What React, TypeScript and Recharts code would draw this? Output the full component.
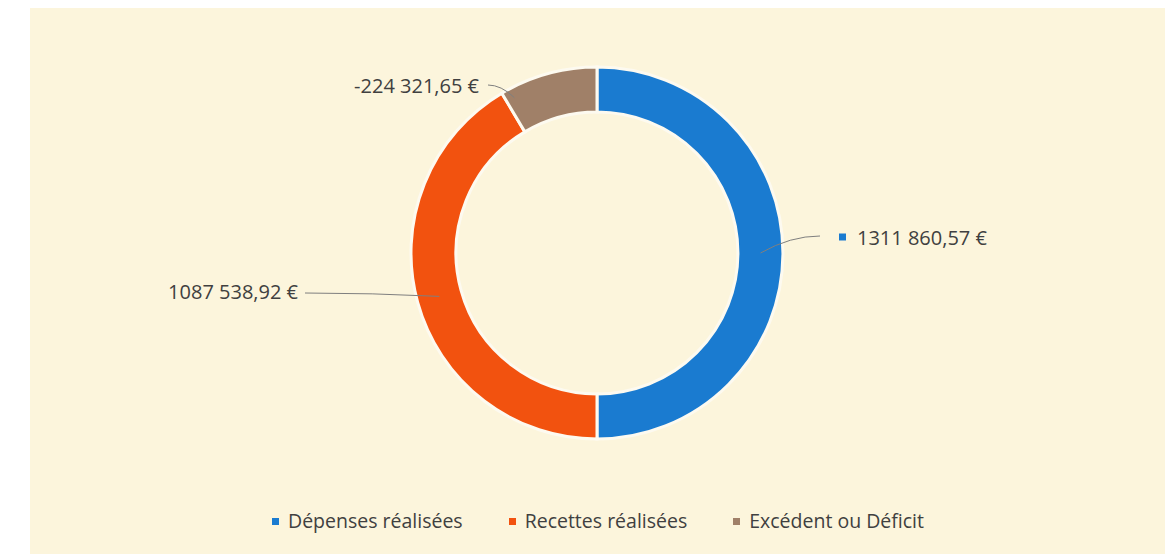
import { Cell, Legend, Pie, PieChart } from "recharts"

const categories = ["Dépenses réalisées", "Recettes réalisées", "Excédent ou Déficit"]
const amounts = [1311860.57, 1087538.92, -224321.65]
const valueLabels = ["1311 860,57 €", "1087 538,92 €", "-224 321,65 €"]
const colors = ["#1a7bd0", "#f2520f", "#a08068"]

const data = categories.map((name, i) => ({
    name,
    value: Math.abs(amounts[i]),
    label: valueLabels[i],
}))

const FONT = "'Open Sans', sans-serif"
const TEXT = "#404040"

// where each data label sits (Excel put them by hand)
const labelLayout = [
    { tx: 857, ty: 237, anchor: "start", elbowX: 820, elbowY: 236, angle: 0, marker: true },
    { tx: 298, ty: 291, anchor: "end", elbowX: 305, elbowY: 293, angle: null, marker: false },
    { tx: 479, ty: 85, anchor: "end", elbowX: 488, elbowY: 85, angle: 118, marker: false },
]

const RADIAN = Math.PI / 180

function renderLabel(props: any) {
    const { cx, cy, midAngle, innerRadius, outerRadius, index } = props
    const l = labelLayout[index]
    const a = (l.angle ?? midAngle) * RADIAN
    const r = index === 2 ? outerRadius - 10 : (innerRadius + outerRadius) / 2
    const px = cx + r * Math.cos(a)
    const py = cy - r * Math.sin(a)
    return (
        <g key={`lbl-${index}`}>
            <path
                d={`M${px},${py} Q${(px + l.elbowX) / 2},${l.elbowY} ${l.elbowX},${l.elbowY}`}
                stroke="#7f7f7f"
                strokeWidth={1}
                fill="none"
            />
            {l.marker && (
                <rect x={839} y={l.ty - 3.5} width={7} height={7} fill={colors[index]} />
            )}
            <text
                x={l.tx}
                y={l.ty}
                textAnchor={l.anchor}
                dominantBaseline="central"
                fontFamily={FONT}
                fontSize={20}
                fill={TEXT}
            >
                {data[index].label}
            </text>
        </g>
    )
}

function LegendContent({ payload }: any) {
    const items = [...(payload || [])].sort(
        (a: any, b: any) => categories.indexOf(a.value) - categories.indexOf(b.value)
    )
    return (
        <div style={{ display: "flex", justifyContent: "center", gap: 46, paddingLeft: 26, fontFamily: FONT, fontSize: 19.5, color: TEXT, lineHeight: "26px" }}>
            {items.map((p: any, i: number) => (
                <span key={`leg-${i}`} style={{ display: "flex", alignItems: "center" }}>
                    <span style={{ width: 7, height: 7, background: p.color, marginRight: 9, display: "inline-block" }} />
                    {p.value}
                </span>
            ))}
        </div>
    )
}

export default function App() {
    return (
        <div style={{ position: "absolute", left: 0, top: 0, width: 1170, height: 554, background: "#ffffff" }}>
            <div style={{ position: "absolute", left: 30, top: 8, width: 1135, height: 546, background: "#fcf5dc" }} />
            <div style={{ position: "absolute", left: 0, top: 0 }}>
                <PieChart width={1170} height={554} margin={{ top: 0, right: 0, bottom: 0, left: 0 }}>
                    <Pie
                        data={data}
                        dataKey="value"
                        nameKey="name"
                        cx={597}
                        cy={253}
                        innerRadius={141}
                        outerRadius={186}
                        startAngle={90}
                        endAngle={-270}
                        stroke="#fdfaf0"
                        strokeWidth={3}
                        label={renderLabel}
                        labelLine={false}
                        isAnimationActive={false}
                    >
                        {data.map((entry, index) => (
                            <Cell key={`cell-${index}`} fill={colors[index]} />
                        ))}
                    </Pie>
                    <Legend
                        verticalAlign="bottom"
                        content={<LegendContent />}
                        wrapperStyle={{ bottom: 20 }}
                    />
                </PieChart>
            </div>
        </div>
    )
}
